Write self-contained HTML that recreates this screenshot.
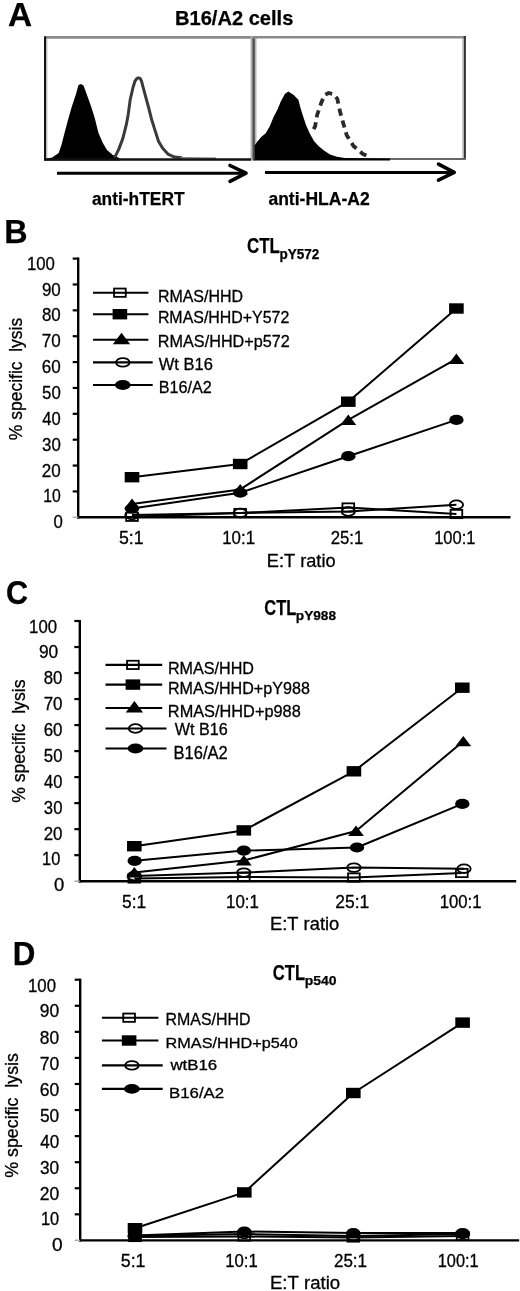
<!DOCTYPE html>
<html><head><meta charset="utf-8"><title>Figure</title>
<style>
html,body{margin:0;padding:0;background:#fff;}
body{width:520px;height:1291px;overflow:hidden;}
svg{display:block;filter:blur(0.4px);font-family:"Liberation Sans",sans-serif;font-kerning:none;}
text{white-space:pre;stroke:#000;stroke-width:0.3px;}
text[font-weight=bold]{stroke-width:0.25px;}
</style></head><body>
<svg width="520" height="1291" viewBox="0 0 520 1291">
<rect width="520" height="1291" fill="#fff"/>
<text x="7.97" y="26.20" font-size="32.56" font-weight="bold" textLength="24.11" lengthAdjust="spacingAndGlyphs" fill="#000">A</text>
<text x="174.96" y="25.00" font-size="21.08" font-weight="bold" textLength="118.37" lengthAdjust="spacingAndGlyphs" fill="#000">B16/A2 cells</text>
<path d="M45.5 160.5 L46.0 158.8 L52.2 157.4 L58.7 153.0 L61.6 144.5 L64.5 133.0 L68.0 120.0 L71.7 107.0 L76.0 94.0 L78.5 85.0 L81.0 84.0 L83.5 85.5 L86.1 92.5 L91.2 106.7 L94.8 118.3 L98.4 132.7 L102.7 142.8 L107.0 150.0 L112.8 155.0 L116.4 156.5 L119.0 158.0 L120.0 160.5 Z" fill="#000"/>
<path d="M114.5 157.5 L115.4 156.1 L118.7 149.4 L122.8 138.6 L126.2 125.2 L128.2 114.4 L130.2 99.6 L133.0 87.5 L135.0 81.0 L137.0 78.3 L138.5 77.8 L140.0 78.3 L141.5 81.0 L142.8 86.2 L145.7 96.9 L149.0 109.0 L151.7 119.8 L155.1 130.6 L158.5 141.3 L162.5 148.1 L167.9 154.1 L174.6 157.1 L182.0 157.8" fill="none" stroke="#3a3a3a" stroke-width="3" stroke-linejoin="round"/>
<line x1="180.00" y1="157.80" x2="216.00" y2="158.20" stroke="#777" stroke-width="1.60"/>
<line x1="44.00" y1="37.40" x2="252.00" y2="37.40" stroke="#8a8a8a" stroke-width="2.60"/>
<line x1="45.10" y1="36.50" x2="45.10" y2="160.50" stroke="#111" stroke-width="2.20"/>
<line x1="46.80" y1="39.00" x2="46.80" y2="158.00" stroke="#bbb" stroke-width="1.20"/>
<line x1="253.50" y1="36.50" x2="253.50" y2="160.50" stroke="#b4b4b4" stroke-width="6.00"/>
<line x1="253.60" y1="36.50" x2="253.60" y2="160.50" stroke="#4a4a4a" stroke-width="2.20"/>
<line x1="44.00" y1="159.50" x2="251.00" y2="159.50" stroke="#111" stroke-width="2.60"/>
<line x1="253.00" y1="37.20" x2="465.80" y2="37.20" stroke="#8a8a8a" stroke-width="2.60"/>
<line x1="464.80" y1="36.00" x2="464.80" y2="159.80" stroke="#333" stroke-width="2.20"/>
<line x1="463.00" y1="38.00" x2="463.00" y2="158.00" stroke="#aaa" stroke-width="1.20"/>
<line x1="340.00" y1="159.10" x2="465.80" y2="159.10" stroke="#666" stroke-width="2.00"/>
<path d="M254.5 160.5 L254.5 145.6 L257.4 141.5 L261.4 136.8 L265.5 133.5 L269.5 126.7 L273.5 117.3 L277.6 109.2 L280.9 101.2 L285.0 93.7 L288.3 91.5 L293.7 95.1 L298.4 99.8 L300.5 107.9 L303.0 116.0 L306.0 125.0 L310.0 134.0 L314.0 141.0 L318.5 146.0 L324.0 150.5 L330.0 154.5 L337.0 156.8 L345.0 158.0 L390.0 158.5 L390.0 160.5 Z" fill="#000"/>
<path d="M311.5 133.0 L315.1 126.4 L317.1 115.0 L321.2 102.9 L324.5 95.0 L328.6 93.0 L333.0 94.0 L337.3 98.8 L340.0 111.6 L343.4 123.7 L346.7 135.2 L353.5 146.0 L362.9 154.0 L370.0 157.0" fill="none" stroke="#2a2a2a" stroke-width="3.8" stroke-dasharray="7.3 5" stroke-dashoffset="-4.45" stroke-linejoin="round"/>
<line x1="57.00" y1="173.20" x2="246.00" y2="173.20" stroke="#000" stroke-width="3.00"/>
<path d="M230 165.5 L246 173.2 L230 181.3" fill="none" stroke="#000" stroke-width="3.6" stroke-linecap="round" stroke-linejoin="round"/>
<line x1="265.00" y1="172.40" x2="453.00" y2="172.40" stroke="#000" stroke-width="3.00"/>
<path d="M438.5 164.2 L454.2 172.3 L438.5 180.2" fill="none" stroke="#000" stroke-width="3.6" stroke-linecap="round" stroke-linejoin="round"/>
<text x="91.89" y="205.40" font-size="17.73" font-weight="bold" textLength="92.70" lengthAdjust="spacingAndGlyphs" fill="#000">anti-hTERT</text>
<text x="268.39" y="205.40" font-size="17.73" font-weight="bold" textLength="101.32" lengthAdjust="spacingAndGlyphs" fill="#000">anti-HLA-A2</text>
<text x="4.14" y="242.70" font-size="32.70" font-weight="bold" textLength="23.33" lengthAdjust="spacingAndGlyphs" fill="#000">B</text>
<text x="247.01" y="252.60" font-size="21.51" font-weight="bold" textLength="32.92" lengthAdjust="spacingAndGlyphs" fill="#000">CTL</text>
<text x="279.51" y="258.50" font-size="13.81" font-weight="bold" textLength="39.83" lengthAdjust="spacingAndGlyphs" fill="#000">pY572</text>
<line x1="78.20" y1="257.60" x2="78.20" y2="518.50" stroke="#000" stroke-width="2.40"/>
<line x1="77.00" y1="517.30" x2="510.50" y2="517.30" stroke="#000" stroke-width="2.40"/>
<line x1="72.70" y1="491.43" x2="78.20" y2="491.43" stroke="#000" stroke-width="2.20"/>
<line x1="72.70" y1="465.56" x2="78.20" y2="465.56" stroke="#000" stroke-width="2.20"/>
<line x1="72.70" y1="439.69" x2="78.20" y2="439.69" stroke="#000" stroke-width="2.20"/>
<line x1="72.70" y1="413.82" x2="78.20" y2="413.82" stroke="#000" stroke-width="2.20"/>
<line x1="72.70" y1="387.95" x2="78.20" y2="387.95" stroke="#000" stroke-width="2.20"/>
<line x1="72.70" y1="362.08" x2="78.20" y2="362.08" stroke="#000" stroke-width="2.20"/>
<line x1="72.70" y1="336.21" x2="78.20" y2="336.21" stroke="#000" stroke-width="2.20"/>
<line x1="72.70" y1="310.34" x2="78.20" y2="310.34" stroke="#000" stroke-width="2.20"/>
<line x1="72.70" y1="284.47" x2="78.20" y2="284.47" stroke="#000" stroke-width="2.20"/>
<line x1="72.70" y1="258.60" x2="78.20" y2="258.60" stroke="#000" stroke-width="2.20"/>
<line x1="72.70" y1="517.30" x2="78.20" y2="517.30" stroke="#aaa" stroke-width="1.50"/>
<path d="M132.00 516.80 L240.20 513.00 L348.30 507.50 L456.40 514.00" fill="none" stroke="#000" stroke-width="2.0" stroke-linejoin="round"/>
<path d="M132.00 477.20 L240.20 464.00 L348.30 401.70 L456.40 308.50" fill="none" stroke="#000" stroke-width="2.0" stroke-linejoin="round"/>
<path d="M132.00 504.00 L240.20 489.40 L348.30 419.90 L456.40 358.90" fill="none" stroke="#000" stroke-width="2.0" stroke-linejoin="round"/>
<path d="M132.00 515.00 L240.20 513.00 L348.30 511.50 L456.40 504.70" fill="none" stroke="#000" stroke-width="2.0" stroke-linejoin="round"/>
<path d="M132.00 508.50 L240.20 492.70 L348.30 456.20 L456.40 419.90" fill="none" stroke="#000" stroke-width="2.0" stroke-linejoin="round"/>
<rect x="126.15" y="512.65" width="11.7" height="8.3" fill="none" stroke="#000" stroke-width="1.8"/>
<rect x="234.35" y="508.85" width="11.7" height="8.3" fill="none" stroke="#000" stroke-width="1.8"/>
<rect x="342.45" y="503.35" width="11.7" height="8.3" fill="none" stroke="#000" stroke-width="1.8"/>
<rect x="450.55" y="509.85" width="11.7" height="8.3" fill="none" stroke="#000" stroke-width="1.8"/>
<rect x="124.70" y="472.00" width="14.6" height="10.4" fill="#000"/>
<rect x="232.90" y="458.80" width="14.6" height="10.4" fill="#000"/>
<rect x="341.00" y="396.50" width="14.6" height="10.4" fill="#000"/>
<rect x="449.10" y="303.30" width="14.6" height="10.4" fill="#000"/>
<path d="M132.00 498.60L139.90 509.00L124.10 509.00Z" fill="#000"/>
<path d="M240.20 484.00L248.10 494.40L232.30 494.40Z" fill="#000"/>
<path d="M348.30 414.50L356.20 424.90L340.40 424.90Z" fill="#000"/>
<path d="M456.40 353.50L464.30 363.90L448.50 363.90Z" fill="#000"/>
<ellipse cx="132.00" cy="515.00" rx="6.7" ry="4.3" fill="none" stroke="#000" stroke-width="1.8"/>
<ellipse cx="240.20" cy="513.00" rx="6.7" ry="4.3" fill="none" stroke="#000" stroke-width="1.8"/>
<ellipse cx="348.30" cy="511.50" rx="6.7" ry="4.3" fill="none" stroke="#000" stroke-width="1.8"/>
<ellipse cx="456.40" cy="504.70" rx="6.7" ry="4.3" fill="none" stroke="#000" stroke-width="1.8"/>
<ellipse cx="132.00" cy="508.50" rx="7.2" ry="5.1" fill="#000"/>
<ellipse cx="240.20" cy="492.70" rx="7.2" ry="5.1" fill="#000"/>
<ellipse cx="348.30" cy="456.20" rx="7.2" ry="5.1" fill="#000"/>
<ellipse cx="456.40" cy="419.90" rx="7.2" ry="5.1" fill="#000"/>
<line x1="93.00" y1="292.70" x2="148.40" y2="292.70" stroke="#000" stroke-width="2.10"/>
<rect x="114.05" y="288.55" width="11.7" height="8.3" fill="none" stroke="#000" stroke-width="1.8"/>
<line x1="93.00" y1="314.20" x2="148.40" y2="314.20" stroke="#000" stroke-width="2.10"/>
<rect x="112.60" y="309.00" width="14.6" height="10.4" fill="#000"/>
<line x1="93.00" y1="339.80" x2="148.40" y2="339.80" stroke="#000" stroke-width="2.10"/>
<path d="M121.50 332.80L130.20 344.20L112.80 344.20Z" fill="#000"/>
<line x1="93.00" y1="362.40" x2="152.70" y2="362.40" stroke="#000" stroke-width="2.10"/>
<ellipse cx="122.80" cy="362.40" rx="6.7" ry="4.3" fill="none" stroke="#000" stroke-width="1.8"/>
<line x1="93.00" y1="385.00" x2="152.70" y2="385.00" stroke="#000" stroke-width="2.10"/>
<ellipse cx="122.80" cy="385.00" rx="7.8" ry="4.9" fill="#000"/>
<text x="26.92" y="270.00" font-size="17.90" font-weight="normal" textLength="27.93" lengthAdjust="spacingAndGlyphs" fill="#000">100</text>
<text x="41.91" y="296.00" font-size="17.90" font-weight="normal" textLength="18.86" lengthAdjust="spacingAndGlyphs" fill="#000">90</text>
<text x="41.97" y="321.30" font-size="17.90" font-weight="normal" textLength="18.79" lengthAdjust="spacingAndGlyphs" fill="#000">80</text>
<text x="41.83" y="347.30" font-size="17.90" font-weight="normal" textLength="18.94" lengthAdjust="spacingAndGlyphs" fill="#000">70</text>
<text x="41.84" y="372.80" font-size="17.90" font-weight="normal" textLength="18.93" lengthAdjust="spacingAndGlyphs" fill="#000">60</text>
<text x="42.03" y="398.80" font-size="17.90" font-weight="normal" textLength="18.73" lengthAdjust="spacingAndGlyphs" fill="#000">50</text>
<text x="42.32" y="424.80" font-size="17.90" font-weight="normal" textLength="18.43" lengthAdjust="spacingAndGlyphs" fill="#000">40</text>
<text x="42.06" y="450.70" font-size="17.90" font-weight="normal" textLength="18.70" lengthAdjust="spacingAndGlyphs" fill="#000">30</text>
<text x="41.84" y="476.70" font-size="17.90" font-weight="normal" textLength="18.92" lengthAdjust="spacingAndGlyphs" fill="#000">20</text>
<text x="43.20" y="501.60" font-size="17.90" font-weight="normal" textLength="17.51" lengthAdjust="spacingAndGlyphs" fill="#000">10</text>
<text x="53.55" y="527.60" font-size="17.90" font-weight="normal" textLength="9.31" lengthAdjust="spacingAndGlyphs" fill="#000">0</text>
<text x="118.89" y="544.00" font-size="17.90" font-weight="normal" textLength="24.68" lengthAdjust="spacingAndGlyphs" fill="#000">5:1</text>
<text x="222.22" y="544.00" font-size="17.90" font-weight="normal" textLength="32.81" lengthAdjust="spacingAndGlyphs" fill="#000">10:1</text>
<text x="330.66" y="544.00" font-size="17.90" font-weight="normal" textLength="32.66" lengthAdjust="spacingAndGlyphs" fill="#000">25:1</text>
<text x="434.14" y="544.00" font-size="17.90" font-weight="normal" textLength="41.26" lengthAdjust="spacingAndGlyphs" fill="#000">100:1</text>
<text x="266.81" y="567.00" font-size="18.17" font-weight="normal" textLength="68.76" lengthAdjust="spacingAndGlyphs" fill="#000">E:T ratio</text>
<text transform="rotate(-90)" x="-440.22" y="21.50" font-size="18.22" textLength="122.46" lengthAdjust="spacingAndGlyphs">% specific  lysis</text>
<text x="157.89" y="301.90" font-size="16.42" font-weight="normal" textLength="85.17" lengthAdjust="spacingAndGlyphs" fill="#000">RMAS/HHD</text>
<text x="157.89" y="322.70" font-size="16.72" font-weight="normal" textLength="131.41" lengthAdjust="spacingAndGlyphs" fill="#000">RMAS/HHD+Y572</text>
<text x="157.87" y="347.40" font-size="16.72" font-weight="normal" textLength="131.94" lengthAdjust="spacingAndGlyphs" fill="#000">RMAS/HHD+p572</text>
<text x="158.83" y="369.70" font-size="16.57" font-weight="normal" textLength="54.00" lengthAdjust="spacingAndGlyphs" fill="#000">Wt B16</text>
<text x="158.67" y="392.60" font-size="16.86" font-weight="normal" textLength="53.14" lengthAdjust="spacingAndGlyphs" fill="#000">B16/A2</text>
<text x="6.05" y="604.20" font-size="32.94" font-weight="bold" textLength="22.09" lengthAdjust="spacingAndGlyphs" fill="#000">C</text>
<text x="264.33" y="614.80" font-size="21.66" font-weight="bold" textLength="31.98" lengthAdjust="spacingAndGlyphs" fill="#000">CTL</text>
<text x="295.80" y="619.60" font-size="13.66" font-weight="bold" textLength="40.22" lengthAdjust="spacingAndGlyphs" fill="#000">pY988</text>
<line x1="79.80" y1="620.00" x2="79.80" y2="882.40" stroke="#000" stroke-width="2.40"/>
<line x1="78.60" y1="881.20" x2="516.20" y2="881.20" stroke="#000" stroke-width="2.40"/>
<line x1="74.30" y1="855.18" x2="79.80" y2="855.18" stroke="#000" stroke-width="2.20"/>
<line x1="74.30" y1="829.16" x2="79.80" y2="829.16" stroke="#000" stroke-width="2.20"/>
<line x1="74.30" y1="803.14" x2="79.80" y2="803.14" stroke="#000" stroke-width="2.20"/>
<line x1="74.30" y1="777.12" x2="79.80" y2="777.12" stroke="#000" stroke-width="2.20"/>
<line x1="74.30" y1="751.10" x2="79.80" y2="751.10" stroke="#000" stroke-width="2.20"/>
<line x1="74.30" y1="725.08" x2="79.80" y2="725.08" stroke="#000" stroke-width="2.20"/>
<line x1="74.30" y1="699.06" x2="79.80" y2="699.06" stroke="#000" stroke-width="2.20"/>
<line x1="74.30" y1="673.04" x2="79.80" y2="673.04" stroke="#000" stroke-width="2.20"/>
<line x1="74.30" y1="647.02" x2="79.80" y2="647.02" stroke="#000" stroke-width="2.20"/>
<line x1="74.30" y1="621.00" x2="79.80" y2="621.00" stroke="#000" stroke-width="2.20"/>
<line x1="74.30" y1="881.20" x2="79.80" y2="881.20" stroke="#aaa" stroke-width="1.50"/>
<path d="M134.30 878.50 L243.80 877.00 L353.90 877.50 L461.80 873.00" fill="none" stroke="#000" stroke-width="2.0" stroke-linejoin="round"/>
<path d="M134.30 846.20 L243.80 830.40 L353.90 771.30 L462.30 687.70" fill="none" stroke="#000" stroke-width="2.0" stroke-linejoin="round"/>
<path d="M134.30 872.50 L243.80 860.50 L356.00 831.00 L463.30 741.30" fill="none" stroke="#000" stroke-width="2.0" stroke-linejoin="round"/>
<path d="M134.30 876.00 L243.80 872.60 L353.90 867.60 L464.00 868.70" fill="none" stroke="#000" stroke-width="2.0" stroke-linejoin="round"/>
<path d="M134.70 860.80 L243.80 850.60 L357.00 847.50 L462.30 803.90" fill="none" stroke="#000" stroke-width="2.0" stroke-linejoin="round"/>
<rect x="128.45" y="874.35" width="11.7" height="8.3" fill="none" stroke="#000" stroke-width="1.8"/>
<rect x="237.95" y="872.85" width="11.7" height="8.3" fill="none" stroke="#000" stroke-width="1.8"/>
<rect x="348.05" y="873.35" width="11.7" height="8.3" fill="none" stroke="#000" stroke-width="1.8"/>
<rect x="455.95" y="868.85" width="11.7" height="8.3" fill="none" stroke="#000" stroke-width="1.8"/>
<rect x="127.00" y="841.00" width="14.6" height="10.4" fill="#000"/>
<rect x="236.50" y="825.20" width="14.6" height="10.4" fill="#000"/>
<rect x="346.60" y="766.10" width="14.6" height="10.4" fill="#000"/>
<rect x="455.00" y="682.50" width="14.6" height="10.4" fill="#000"/>
<path d="M134.30 867.10L142.20 877.50L126.40 877.50Z" fill="#000"/>
<path d="M243.80 855.10L251.70 865.50L235.90 865.50Z" fill="#000"/>
<path d="M356.00 825.60L363.90 836.00L348.10 836.00Z" fill="#000"/>
<path d="M463.30 735.90L471.20 746.30L455.40 746.30Z" fill="#000"/>
<ellipse cx="134.30" cy="876.00" rx="6.7" ry="4.3" fill="none" stroke="#000" stroke-width="1.8"/>
<ellipse cx="243.80" cy="872.60" rx="6.7" ry="4.3" fill="none" stroke="#000" stroke-width="1.8"/>
<ellipse cx="353.90" cy="867.60" rx="6.7" ry="4.3" fill="none" stroke="#000" stroke-width="1.8"/>
<ellipse cx="464.00" cy="868.70" rx="6.7" ry="4.3" fill="none" stroke="#000" stroke-width="1.8"/>
<ellipse cx="134.70" cy="860.80" rx="7.2" ry="5.1" fill="#000"/>
<ellipse cx="243.80" cy="850.60" rx="7.2" ry="5.1" fill="#000"/>
<ellipse cx="357.00" cy="847.50" rx="7.2" ry="5.1" fill="#000"/>
<ellipse cx="462.30" cy="803.90" rx="7.2" ry="5.1" fill="#000"/>
<line x1="105.50" y1="664.90" x2="162.20" y2="664.90" stroke="#000" stroke-width="2.10"/>
<rect x="127.05" y="660.75" width="11.7" height="8.3" fill="none" stroke="#000" stroke-width="1.8"/>
<line x1="105.50" y1="684.60" x2="162.20" y2="684.60" stroke="#000" stroke-width="2.10"/>
<rect x="125.60" y="679.40" width="14.6" height="10.4" fill="#000"/>
<line x1="105.50" y1="708.00" x2="162.20" y2="708.00" stroke="#000" stroke-width="2.10"/>
<path d="M134.40 701.00L143.10 712.40L125.70 712.40Z" fill="#000"/>
<line x1="105.50" y1="728.50" x2="166.50" y2="728.50" stroke="#000" stroke-width="2.10"/>
<ellipse cx="135.50" cy="728.50" rx="6.7" ry="4.3" fill="none" stroke="#000" stroke-width="1.8"/>
<line x1="105.50" y1="748.50" x2="166.50" y2="748.50" stroke="#000" stroke-width="2.10"/>
<ellipse cx="135.50" cy="748.50" rx="7.8" ry="4.9" fill="#000"/>
<text x="29.12" y="633.10" font-size="17.90" font-weight="normal" textLength="27.93" lengthAdjust="spacingAndGlyphs" fill="#000">100</text>
<text x="38.89" y="658.00" font-size="17.90" font-weight="normal" textLength="19.29" lengthAdjust="spacingAndGlyphs" fill="#000">90</text>
<text x="43.77" y="684.00" font-size="17.90" font-weight="normal" textLength="18.69" lengthAdjust="spacingAndGlyphs" fill="#000">80</text>
<text x="43.63" y="709.90" font-size="17.90" font-weight="normal" textLength="18.83" lengthAdjust="spacingAndGlyphs" fill="#000">70</text>
<text x="43.64" y="735.90" font-size="17.90" font-weight="normal" textLength="18.82" lengthAdjust="spacingAndGlyphs" fill="#000">60</text>
<text x="43.83" y="761.90" font-size="17.90" font-weight="normal" textLength="18.62" lengthAdjust="spacingAndGlyphs" fill="#000">50</text>
<text x="44.12" y="787.90" font-size="17.90" font-weight="normal" textLength="18.32" lengthAdjust="spacingAndGlyphs" fill="#000">40</text>
<text x="43.86" y="813.80" font-size="17.90" font-weight="normal" textLength="18.59" lengthAdjust="spacingAndGlyphs" fill="#000">30</text>
<text x="43.65" y="839.80" font-size="17.90" font-weight="normal" textLength="18.81" lengthAdjust="spacingAndGlyphs" fill="#000">20</text>
<text x="42.05" y="864.70" font-size="17.90" font-weight="normal" textLength="18.18" lengthAdjust="spacingAndGlyphs" fill="#000">10</text>
<text x="54.08" y="890.90" font-size="17.90" font-weight="normal" textLength="10.24" lengthAdjust="spacingAndGlyphs" fill="#000">0</text>
<text x="122.00" y="907.90" font-size="17.76" font-weight="normal" textLength="24.25" lengthAdjust="spacingAndGlyphs" fill="#000">5:1</text>
<text x="226.02" y="907.90" font-size="17.76" font-weight="normal" textLength="32.81" lengthAdjust="spacingAndGlyphs" fill="#000">10:1</text>
<text x="335.32" y="907.90" font-size="17.76" font-weight="normal" textLength="34.03" lengthAdjust="spacingAndGlyphs" fill="#000">25:1</text>
<text x="439.73" y="907.90" font-size="17.76" font-weight="normal" textLength="41.68" lengthAdjust="spacingAndGlyphs" fill="#000">100:1</text>
<text x="270.00" y="930.30" font-size="17.59" font-weight="normal" textLength="69.27" lengthAdjust="spacingAndGlyphs" fill="#000">E:T ratio</text>
<text transform="rotate(-90)" x="-802.83" y="25.00" font-size="18.49" textLength="123.26" lengthAdjust="spacingAndGlyphs">% specific  lysis</text>
<text x="167.88" y="674.20" font-size="16.86" font-weight="normal" textLength="86.10" lengthAdjust="spacingAndGlyphs" fill="#000">RMAS/HHD</text>
<text x="167.88" y="693.60" font-size="16.86" font-weight="normal" textLength="142.02" lengthAdjust="spacingAndGlyphs" fill="#000">RMAS/HHD+pY988</text>
<text x="167.86" y="716.70" font-size="16.86" font-weight="normal" textLength="132.85" lengthAdjust="spacingAndGlyphs" fill="#000">RMAS/HHD+p988</text>
<text x="174.73" y="735.10" font-size="16.86" font-weight="normal" textLength="52.98" lengthAdjust="spacingAndGlyphs" fill="#000">Wt B16</text>
<text x="173.44" y="758.80" font-size="17.59" font-weight="normal" textLength="54.39" lengthAdjust="spacingAndGlyphs" fill="#000">B16/A2</text>
<text x="12.81" y="964.60" font-size="32.85" font-weight="bold" textLength="22.61" lengthAdjust="spacingAndGlyphs" fill="#000">D</text>
<text x="272.82" y="980.30" font-size="22.38" font-weight="bold" textLength="32.29" lengthAdjust="spacingAndGlyphs" fill="#000">CTL</text>
<text x="304.68" y="984.60" font-size="13.66" font-weight="bold" textLength="31.90" lengthAdjust="spacingAndGlyphs" fill="#000">p540</text>
<line x1="80.20" y1="978.70" x2="80.20" y2="1241.60" stroke="#000" stroke-width="2.40"/>
<line x1="79.00" y1="1240.40" x2="519.20" y2="1240.40" stroke="#000" stroke-width="2.40"/>
<line x1="74.70" y1="1214.33" x2="80.20" y2="1214.33" stroke="#000" stroke-width="2.20"/>
<line x1="74.70" y1="1188.26" x2="80.20" y2="1188.26" stroke="#000" stroke-width="2.20"/>
<line x1="74.70" y1="1162.19" x2="80.20" y2="1162.19" stroke="#000" stroke-width="2.20"/>
<line x1="74.70" y1="1136.12" x2="80.20" y2="1136.12" stroke="#000" stroke-width="2.20"/>
<line x1="74.70" y1="1110.05" x2="80.20" y2="1110.05" stroke="#000" stroke-width="2.20"/>
<line x1="74.70" y1="1083.98" x2="80.20" y2="1083.98" stroke="#000" stroke-width="2.20"/>
<line x1="74.70" y1="1057.91" x2="80.20" y2="1057.91" stroke="#000" stroke-width="2.20"/>
<line x1="74.70" y1="1031.84" x2="80.20" y2="1031.84" stroke="#000" stroke-width="2.20"/>
<line x1="74.70" y1="1005.77" x2="80.20" y2="1005.77" stroke="#000" stroke-width="2.20"/>
<line x1="74.70" y1="979.70" x2="80.20" y2="979.70" stroke="#000" stroke-width="2.20"/>
<line x1="74.70" y1="1240.40" x2="80.20" y2="1240.40" stroke="#aaa" stroke-width="1.50"/>
<path d="M135.00 1237.00 L244.30 1236.50 L353.30 1237.50 L462.60 1236.00" fill="none" stroke="#000" stroke-width="2.0" stroke-linejoin="round"/>
<path d="M135.00 1228.20 L244.30 1192.40 L353.30 1093.00 L462.60 1022.60" fill="none" stroke="#000" stroke-width="2.0" stroke-linejoin="round"/>
<path d="M135.00 1236.00 L244.30 1234.00 L353.30 1236.00 L462.60 1234.00" fill="none" stroke="#000" stroke-width="2.0" stroke-linejoin="round"/>
<path d="M135.00 1235.50 L244.30 1231.50 L353.30 1233.00 L462.60 1233.00" fill="none" stroke="#000" stroke-width="2.0" stroke-linejoin="round"/>
<rect x="129.15" y="1232.85" width="11.7" height="8.3" fill="none" stroke="#000" stroke-width="1.8"/>
<rect x="238.45" y="1232.35" width="11.7" height="8.3" fill="none" stroke="#000" stroke-width="1.8"/>
<rect x="347.45" y="1233.35" width="11.7" height="8.3" fill="none" stroke="#000" stroke-width="1.8"/>
<rect x="456.75" y="1231.85" width="11.7" height="8.3" fill="none" stroke="#000" stroke-width="1.8"/>
<rect x="127.70" y="1223.00" width="14.6" height="10.4" fill="#000"/>
<rect x="237.00" y="1187.20" width="14.6" height="10.4" fill="#000"/>
<rect x="346.00" y="1087.80" width="14.6" height="10.4" fill="#000"/>
<rect x="455.30" y="1017.40" width="14.6" height="10.4" fill="#000"/>
<ellipse cx="135.00" cy="1236.00" rx="6.7" ry="4.3" fill="none" stroke="#000" stroke-width="1.8"/>
<ellipse cx="244.30" cy="1234.00" rx="6.7" ry="4.3" fill="none" stroke="#000" stroke-width="1.8"/>
<ellipse cx="353.30" cy="1236.00" rx="6.7" ry="4.3" fill="none" stroke="#000" stroke-width="1.8"/>
<ellipse cx="462.60" cy="1234.00" rx="6.7" ry="4.3" fill="none" stroke="#000" stroke-width="1.8"/>
<ellipse cx="135.00" cy="1235.50" rx="7.2" ry="5.1" fill="#000"/>
<ellipse cx="244.30" cy="1231.50" rx="7.2" ry="5.1" fill="#000"/>
<ellipse cx="353.30" cy="1233.00" rx="7.2" ry="5.1" fill="#000"/>
<ellipse cx="462.60" cy="1233.00" rx="7.2" ry="5.1" fill="#000"/>
<line x1="101.90" y1="1017.70" x2="158.40" y2="1017.70" stroke="#000" stroke-width="2.10"/>
<rect x="123.25" y="1013.55" width="11.7" height="8.3" fill="none" stroke="#000" stroke-width="1.8"/>
<line x1="101.90" y1="1040.50" x2="158.40" y2="1040.50" stroke="#000" stroke-width="2.10"/>
<rect x="121.80" y="1035.30" width="14.6" height="10.4" fill="#000"/>
<line x1="101.90" y1="1065.40" x2="162.70" y2="1065.40" stroke="#000" stroke-width="2.10"/>
<ellipse cx="131.90" cy="1065.40" rx="6.7" ry="4.3" fill="none" stroke="#000" stroke-width="1.8"/>
<line x1="101.90" y1="1088.90" x2="162.70" y2="1088.90" stroke="#000" stroke-width="2.10"/>
<ellipse cx="131.90" cy="1088.90" rx="7.8" ry="4.9" fill="#000"/>
<text x="28.02" y="992.00" font-size="17.90" font-weight="normal" textLength="27.93" lengthAdjust="spacingAndGlyphs" fill="#000">100</text>
<text x="39.78" y="1016.90" font-size="17.90" font-weight="normal" textLength="19.40" lengthAdjust="spacingAndGlyphs" fill="#000">90</text>
<text x="39.84" y="1044.00" font-size="17.90" font-weight="normal" textLength="19.33" lengthAdjust="spacingAndGlyphs" fill="#000">80</text>
<text x="39.70" y="1069.90" font-size="17.90" font-weight="normal" textLength="19.48" lengthAdjust="spacingAndGlyphs" fill="#000">70</text>
<text x="39.71" y="1095.90" font-size="17.90" font-weight="normal" textLength="19.47" lengthAdjust="spacingAndGlyphs" fill="#000">60</text>
<text x="39.91" y="1121.90" font-size="17.90" font-weight="normal" textLength="19.27" lengthAdjust="spacingAndGlyphs" fill="#000">50</text>
<text x="40.21" y="1147.90" font-size="17.90" font-weight="normal" textLength="18.96" lengthAdjust="spacingAndGlyphs" fill="#000">40</text>
<text x="39.94" y="1173.80" font-size="17.90" font-weight="normal" textLength="19.23" lengthAdjust="spacingAndGlyphs" fill="#000">30</text>
<text x="39.72" y="1199.80" font-size="17.90" font-weight="normal" textLength="19.46" lengthAdjust="spacingAndGlyphs" fill="#000">20</text>
<text x="40.95" y="1224.70" font-size="17.90" font-weight="normal" textLength="18.18" lengthAdjust="spacingAndGlyphs" fill="#000">10</text>
<text x="51.96" y="1250.70" font-size="17.90" font-weight="normal" textLength="10.59" lengthAdjust="spacingAndGlyphs" fill="#000">0</text>
<text x="120.79" y="1267.20" font-size="17.76" font-weight="normal" textLength="24.68" lengthAdjust="spacingAndGlyphs" fill="#000">5:1</text>
<text x="225.22" y="1267.20" font-size="17.76" font-weight="normal" textLength="32.59" lengthAdjust="spacingAndGlyphs" fill="#000">10:1</text>
<text x="333.95" y="1267.20" font-size="17.76" font-weight="normal" textLength="33.08" lengthAdjust="spacingAndGlyphs" fill="#000">25:1</text>
<text x="437.76" y="1267.20" font-size="17.76" font-weight="normal" textLength="40.84" lengthAdjust="spacingAndGlyphs" fill="#000">100:1</text>
<text x="269.98" y="1288.70" font-size="17.88" font-weight="normal" textLength="70.20" lengthAdjust="spacingAndGlyphs" fill="#000">E:T ratio</text>
<text transform="rotate(-90)" x="-1177.73" y="18.20" font-size="18.35" textLength="124.68" lengthAdjust="spacingAndGlyphs">% specific  lysis</text>
<text x="165.59" y="1025.20" font-size="17.15" font-weight="normal" textLength="84.97" lengthAdjust="spacingAndGlyphs" fill="#000">RMAS/HHD</text>
<text x="165.57" y="1048.30" font-size="15.41" font-weight="normal" textLength="132.27" lengthAdjust="spacingAndGlyphs" fill="#000">RMAS/HHD+p540</text>
<text x="170.42" y="1070.40" font-size="14.54" font-weight="normal" textLength="46.82" lengthAdjust="spacingAndGlyphs" fill="#000">wtB16</text>
<text x="169.02" y="1098.10" font-size="14.83" font-weight="normal" textLength="55.12" lengthAdjust="spacingAndGlyphs" fill="#000">B16/A2</text>
</svg>
</body></html>
